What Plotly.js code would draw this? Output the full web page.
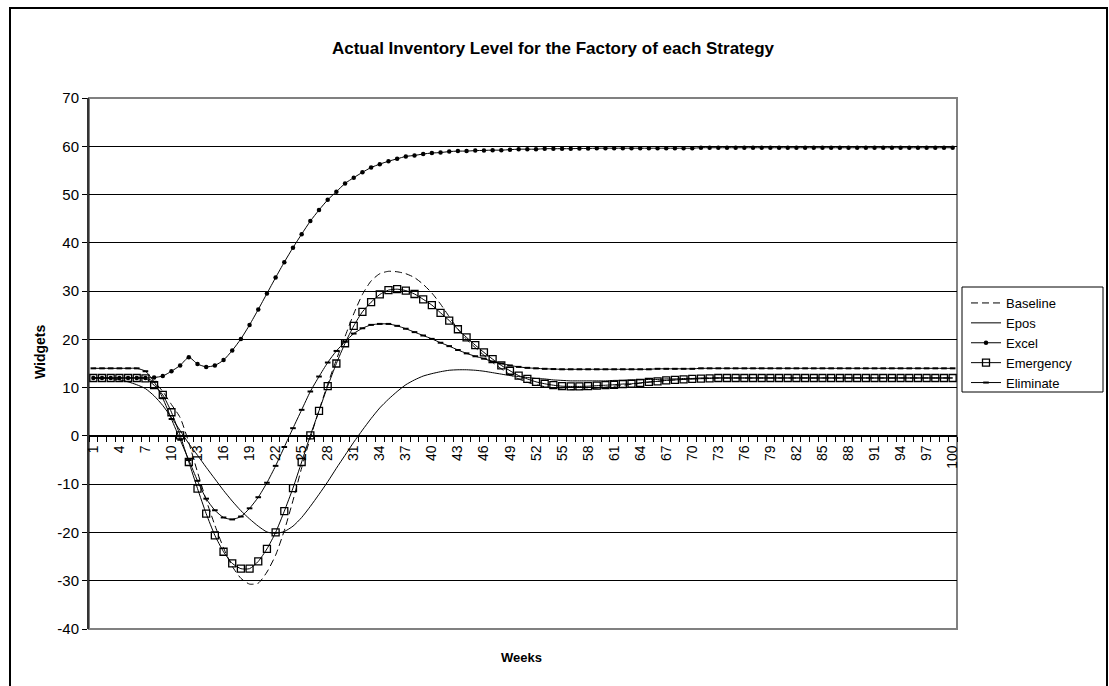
<!DOCTYPE html>
<html>
<head>
<meta charset="utf-8">
<script src="https://cdn.plot.ly/plotly-3.0.1.min.js"></script>
<style>
  html, body { margin: 0; padding: 0; background: #fff; }
  #wrap { position: relative; width: 1109px; height: 686px; overflow: hidden; }
  #chart { position: absolute; left: 0; top: 0; width: 1109px; height: 686px; }
  #frame { position: absolute; left: 9px; top: 7px; width: 1095px; height: 700px;
           border: 2px solid #000; pointer-events: none; }
</style>
</head>
<body>
<div id="wrap"><div id="chart"></div><div id="frame"></div></div>
<script>
const weeks = [1,2,3,4,5,6,7,8,9,10,11,12,13,14,15,16,17,18,19,20,21,22,23,24,25,26,27,28,29,30,31,32,33,34,35,36,37,38,39,40,41,42,43,44,45,46,47,48,49,50,51,52,53,54,55,56,57,58,59,60,61,62,63,64,65,66,67,68,69,70,71,72,73,74,75,76,77,78,79,80,81,82,83,84,85,86,87,88,89,90,91,92,93,94,95,96,97,98,99,100];

const tickWeeks = [1,4,7,10,13,16,19,22,25,28,31,34,37,40,43,46,49,52,55,58,61,64,67,70,73,76,79,82,85,88,91,94,97,100];
const yTickVals = [-40,-30,-20,-10,0,10,20,30,40,50,60,70];
const yTickText = ['-40','-30','-20','-10','0','10','20','30','40','50','60','70'];

const baseline = [12,12,12,12,12,12,12,
  11.2,9.2,6.5,3.8,-1.4,-7.5,-13.3,-18.5,-23.2,
  -27.0,-29.5,-30.7,-30.5,-28.2,-24.7,-19.6,-13.4,-6.6,-0.4,
  5.3,10.7,15.8,20.6,25.3,29.3,32.1,33.6,34.1,34.0,
  33.6,32.8,31.4,29.6,27.3,24.7,22.1,20.0,18.3,16.7,
  15.2,13.9,12.7,11.8,11.1,10.6,10.2,9.9,9.7,9.6,
  9.6,9.7,9.9,10.1,10.3,10.5,10.7,10.9,11.1,11.3,
  11.5,11.6,11.7,11.8,11.9,12,12,12,12,12,
  12,12,12,12,12,12,12,12,12,12,12,12,12,12,12,12,12,12,12,12,12,12,12,12];

const epos = [12,12,11.9,11.6,11.2,10.6,9.8,8.3,6.3,3.8,
  1.1,-1.6,-4.0,-6.5,-8.9,-11.3,-13.5,-15.5,-17.2,-18.7,
  -19.9,-20.2,-19.8,-18.7,-16.9,-14.6,-12.1,-9.5,-6.7,-4.0,
  -1.3,1.2,3.6,5.8,7.6,9.2,10.6,11.6,12.4,12.9,
  13.3,13.6,13.7,13.7,13.6,13.4,13.1,12.8,12.5,12.3,
  12.1,11.9,11.8,11.6,11.5,11.4,11.4,11.4,11.4,11.4,
  11.5,11.5,11.6,11.6,11.7,11.7,11.8,11.8,11.9,11.9,
  12,12,12,12,12,12,12,12,12,12,12,12,12,12,12,12,12,12,12,12,12,12,12,12,12,12,12,12,12,12];

const excel = [12,12,12,12,12,12,12,
  12.1,12.4,13.4,14.6,16.3,14.9,14.3,14.6,15.7,17.7,20.1,23.0,
  26.2,29.5,32.8,36.0,39.0,41.8,44.5,46.8,48.9,50.6,
  52.3,53.5,54.6,55.6,56.3,56.9,57.4,57.9,58.1,58.4,
  58.6,58.7,58.9,59.0,59.0,59.1,59.15,59.2,59.2,59.3,
  59.4,59.4,59.4,59.5,59.5,59.5,59.5,59.55,59.55,59.6,
  59.6,59.6,59.6,59.6,59.6,59.6,59.6,59.6,59.6,59.6,59.6,
  59.7,59.7,59.7,59.7,59.7,59.7,59.7,59.7,59.7,59.7,59.7,59.7,59.7,59.7,59.7,
  59.7,59.7,59.7,59.7,59.7,59.7,59.7,59.7,59.7,59.7,59.7,59.7,59.7,59.7,59.7];

const emergency = [12,12,12,12,12,12,11.9,10.5,8.5,4.9,
  0.1,-5.4,-10.9,-16.1,-20.6,-24.0,-26.4,-27.5,-27.5,-26.0,
  -23.4,-20.0,-15.6,-10.8,-5.4,0.1,5.2,10.3,15.0,19.2,
  22.8,25.7,27.7,29.3,30.2,30.4,30.1,29.4,28.3,27.1,
  25.5,23.9,22.1,20.4,18.8,17.3,15.9,14.6,13.5,12.5,
  11.8,11.2,10.8,10.5,10.3,10.25,10.25,10.3,10.4,10.5,
  10.6,10.75,10.8,11.0,11.2,11.3,11.5,11.6,11.7,11.8,
  11.85,11.9,
  12,12,12,12,12,12,12,12,12,12,12,12,12,12,12,12,12,12,12,12,12,12,12,12,12,12,12,12];

const eliminate = [14,14,14,14,14,14,13.4,11.2,7.8,3.5,
  -0.8,-5.0,-9.3,-13.0,-15.4,-16.9,-17.3,-16.7,-15.0,-12.7,
  -9.7,-6.2,-2.3,1.6,5.4,9.2,12.3,15.2,17.6,19.5,
  21.2,22.3,23.0,23.2,23.2,22.8,22.2,21.5,20.8,20.1,
  19.3,18.6,17.8,17.1,16.5,16.0,15.4,15.0,14.6,14.3,
  14.1,14.0,13.9,13.85,13.8,13.8,13.8,13.8,13.8,13.8,
  13.8,13.8,13.8,13.8,13.8,13.9,13.9,13.9,13.9,13.9,
  14,14,14,14,14,14,14,14,14,14,14,14,14,14,14,14,14,14,14,14,14,14,14,14,14,14,14,14,14,14];

const FONT = 'Liberation Sans, Arial, sans-serif';
const lineShape = {shape: 'spline', smoothing: 0.6};

const traces = [
  {x: weeks, y: baseline, name: 'Baseline', type: 'scatter', mode: 'lines',
   line: Object.assign({color: '#000', width: 1, dash: '7px,4px'}, lineShape)},
  {x: weeks, y: epos, name: 'Epos', type: 'scatter', mode: 'lines',
   line: Object.assign({color: '#000', width: 1}, lineShape)},
  {x: weeks, y: excel, name: 'Excel', type: 'scatter', mode: 'lines+markers',
   line: Object.assign({color: '#000', width: 1}, lineShape),
   marker: {symbol: 'circle', size: 4.5, color: '#000'}},
  {x: weeks, y: emergency, name: 'Emergency', type: 'scatter', mode: 'lines+markers',
   line: Object.assign({color: '#000', width: 1}, lineShape),
   marker: {symbol: 'square-open', size: 7, color: '#000', line: {width: 1.3, color: '#000'}}},
  {x: weeks, y: eliminate, name: 'Eliminate', type: 'scatter', mode: 'lines+markers',
   line: Object.assign({color: '#000', width: 1}, lineShape),
   marker: {symbol: 'line-ew', size: 4, color: '#000', line: {width: 2, color: '#000'}}}
];

const PW = 868, PH = 531, PL = 89, PB = 629;
const layout = {
  width: 1109, height: 686,
  margin: {l: 89, r: 152, t: 98, b: 57, pad: 0},
  paper_bgcolor: '#fff', plot_bgcolor: '#fff',
  font: {family: FONT, size: 13, color: '#000'},
  showlegend: true,
  title: {text: 'Actual Inventory Level for the Factory of each Strategy',
          font: {family: FONT, size: 17, color: '#000', weight: 'bold'},
          x: 553 / 1109, xref: 'container', xanchor: 'center',
          y: 1 - 48/686, yref: 'container', yanchor: 'middle'},
  xaxis: {
    type: 'linear', range: [0.5, 100.5], fixedrange: true,
    anchor: 'free', position: 40/110,
    showgrid: false, zeroline: false,
    showline: true, linecolor: '#000', linewidth: 1,
    tickmode: 'array', tickvals: tickWeeks, ticktext: tickWeeks.map(String),
    ticks: 'outside', ticklen: 0, tickangle: -90,
    ticklabelstandoff: 3,
    tickfont: {family: FONT, size: 14, color: '#000'},
    minor: {tickmode: 'linear', tick0: 0.5, dtick: 1, ticks: 'outside', ticklen: 5,
            tickcolor: '#000', tickwidth: 1, showgrid: false}
  },
  yaxis: {
    range: [-40, 70], fixedrange: true,
    tickmode: 'array', tickvals: yTickVals, ticktext: yTickText,
    showgrid: true, gridcolor: '#000', gridwidth: 1,
    zeroline: false,
    showline: true, linecolor: '#333', linewidth: 2,
    ticks: 'outside', ticklen: 5, tickcolor: '#000',
    tickfont: {family: FONT, size: 15, color: '#000'}
  },
  legend: {
    x: (966 - PL) / PW, y: (PB - 288) / PH, xanchor: 'left', yanchor: 'top',
    borderwidth: 0, bgcolor: 'rgba(0,0,0,0)',
    font: {family: FONT, size: 13, color: '#000'},
    tracegroupgap: 0, itemwidth: 30
  },
  shapes: [
    {type: 'rect', xref: 'paper', yref: 'paper', x0: 0, x1: 1, y0: 0, y1: 1,
     line: {color: '#808080', width: 2}, layer: 'below'},
    {type: 'rect', xref: 'paper', yref: 'paper',
     x0: (962 - PL) / PW, x1: (1103 - PL) / PW,
     y0: (PB - 392) / PH, y1: (PB - 287) / PH,
     line: {color: '#000', width: 1}, fillcolor: '#fff', layer: 'below'}
  ],
  annotations: [
    {text: '<b>Widgets</b>', xref: 'paper', yref: 'paper',
     x: (40 - PL) / PW, y: (PB - 352) / PH, xanchor: 'center', yanchor: 'middle',
     textangle: -90, showarrow: false,
     font: {family: FONT, size: 14, color: '#000'}},
    {text: '<b>Weeks</b>', xref: 'paper', yref: 'paper',
     x: (521 - PL) / PW, y: (PB - 657) / PH, xanchor: 'center', yanchor: 'middle',
     showarrow: false,
     font: {family: FONT, size: 13, color: '#000'}}
  ]
};

Plotly.newPlot('chart', traces, layout, {displayModeBar: false, staticPlot: true});
</script>
</body>
</html>
